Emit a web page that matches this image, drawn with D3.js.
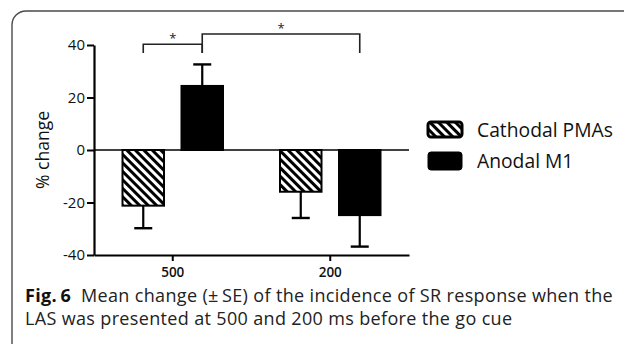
<!DOCTYPE html>
<html>
<head>
<meta charset="utf-8">
<script src="https://cdn.jsdelivr.net/npm/d3@7"></script>
<style>
  html, body { margin: 0; padding: 0; background: #fff; }
  svg { display: block; }
  text { font-family: "Open Sans", "Noto Sans", sans-serif; }
</style>
</head>
<body>
<svg id="chart" width="624" height="344"></svg>
<script>
// ---- data ----
const categories = ["500", "200"];
const series = ["Cathodal PMAs", "Anodal M1"];
const cathodalValues = [-21.2, -15.9];
const anodalValues = [24.4, -24.8];
const cathodalSE = [8.6, 10.0];
const anodalSE = [8.2, 12.0];
const yTicks = [-40, -20, 0, 20, 40];
const yLabel = "% change";
// significance brackets: [category, series] pairs compared, bracket level (y value)
const bracketFrom = [["500", "Cathodal PMAs"], ["500", "Anodal M1"]];
const bracketTo = [["500", "Anodal M1"], ["200", "Anodal M1"]];
const bracketLevel = [40.3, 44.2];
const bracketLegEnd = [37, 37];
const bracketLabel = ["*", "*"];
const captionBold = "Fig.\u20096";
const captionLine1 = "Mean change (\u00B1\u2009SE) of the incidence of SR response when the";
const captionLine2 = "LAS was presented at 500 and 200 ms before the go cue";

const rows = [];
categories.forEach((c, i) => {
  rows.push({cat: c, ser: series[0], value: cathodalValues[i], se: cathodalSE[i]});
  rows.push({cat: c, ser: series[1], value: anodalValues[i], se: anodalSE[i]});
});

function fitWidth(sel, target) {
  const w = sel.node().getComputedTextLength();
  const fs = parseFloat(sel.attr("font-size"));
  sel.attr("font-size", (fs * target / w).toFixed(2));
}

const svg = d3.select("#chart");
svg.append("rect").attr("width", 624).attr("height", 344).attr("fill", "#fff");

// frame border
svg.append("rect")
  .attr("x", 12).attr("y", 11).attr("width", 640).attr("height", 360)
  .attr("rx", 14).attr("fill", "none").attr("stroke", "#4a4a4a").attr("stroke-width", 1.4);

const defs = svg.append("defs");
const pat = defs.append("pattern")
  .attr("id", "hatch").attr("patternUnits", "userSpaceOnUse")
  .attr("width", 6).attr("height", 6)
  .attr("patternTransform", "rotate(-45)");
pat.append("rect").attr("width", 6).attr("height", 6).attr("fill", "#fff");
pat.append("line").attr("x1", 1.5).attr("y1", 0).attr("x2", 1.5).attr("y2", 6)
  .attr("stroke", "#000").attr("stroke-width", 3);

const plotLeft = 94, plotRight = 409, plotTop = 45, plotBottom = 255;

const x0 = d3.scaleBand().domain(categories).range([plotLeft, plotRight]).padding(0);
const x1 = d3.scaleBand().domain(series)
  .range([x0.bandwidth() * 0.181, x0.bandwidth() * 0.819]).paddingInner(0.2966).paddingOuter(0);
const y = d3.scaleLinear().domain([-40, 40]).range([plotBottom, plotTop]);

const fillFor = s => s === series[0] ? "url(#hatch)" : "#000";

const g = svg.append("g");

// bars
g.selectAll("rect.bar").data(rows).join("rect")
  .attr("class", "bar")
  .attr("x", d => x0(d.cat) + x1(d.ser))
  .attr("width", x1.bandwidth())
  .attr("y", d => y(Math.max(0, d.value)))
  .attr("height", d => Math.abs(y(d.value) - y(0)))
  .attr("fill", d => fillFor(d.ser))
  .attr("stroke", "#000").attr("stroke-width", 2);

// error bars (away from zero)
const eb = g.selectAll("g.eb").data(rows).join("g").attr("class", "eb");
const cx = d => x0(d.cat) + x1(d.ser) + x1.bandwidth() / 2;
const tipV = d => d.value + Math.sign(d.value) * d.se;
eb.append("line")
  .attr("x1", cx).attr("x2", cx)
  .attr("y1", d => y(d.value)).attr("y2", d => y(tipV(d)))
  .attr("stroke", "#000").attr("stroke-width", 2.2);
eb.append("line")
  .attr("x1", d => cx(d) - 9).attr("x2", d => cx(d) + 9)
  .attr("y1", d => y(tipV(d))).attr("y2", d => y(tipV(d)))
  .attr("stroke", "#000").attr("stroke-width", 2.4);

// zero line
g.append("line").attr("x1", plotLeft).attr("x2", plotRight)
  .attr("y1", y(0)).attr("y2", y(0)).attr("stroke", "#000").attr("stroke-width", 1.6);

// y axis
const yAxis = svg.append("g").attr("transform", `translate(${plotLeft},0)`)
  .call(d3.axisLeft(y).tickValues(yTicks).tickFormat(d => String(d))
    .tickSize(7).tickSizeOuter(0).tickPadding(2));
yAxis.select(".domain").attr("stroke-width", 2.2);
yAxis.selectAll(".tick line").attr("stroke-width", 2);
yAxis.selectAll(".tick text").attr("font-size", 15).attr("fill", "#111")
  .attr("font-family", "'Open Sans', sans-serif");

// x axis
const xAxis = svg.append("g").attr("transform", `translate(0,${plotBottom})`)
  .call(d3.axisBottom(x0).tickSize(6).tickSizeOuter(0).tickPadding(6));
xAxis.select(".domain").attr("stroke-width", 2.2);
xAxis.selectAll(".tick line").attr("stroke-width", 2);
xAxis.selectAll(".tick text").attr("font-size", 13.5).attr("font-weight", 600).attr("fill", "#111")
  .attr("font-family", "'Open Sans', sans-serif");

// y label
const yl = svg.append("text")
  .attr("transform", `translate(49,${(plotTop + plotBottom) / 2}) rotate(-90)`)
  .attr("text-anchor", "middle").attr("font-size", 16).attr("fill", "#111")
  .text(yLabel);
fitWidth(yl, 78);

// significance brackets
const px = p => x0(p[0]) + x1(p[1]) + x1.bandwidth() / 2;
bracketFrom.forEach((f, i) => {
  const t = bracketTo[i];
  const xa = px(f), xb = px(t);
  const ylv = y(bracketLevel[i]), ye = y(bracketLegEnd[i]);
  svg.append("path")
    .attr("d", `M${xa},${ye}V${ylv}H${xb}V${ye}`)
    .attr("fill", "none").attr("stroke", "#222").attr("stroke-width", 1.6);
  svg.append("text")
    .attr("x", (xa + xb) / 2).attr("y", ylv - 1)
    .attr("text-anchor", "middle").attr("font-size", 13).attr("fill", "#222")
    .text(bracketLabel[i]);
});

// legend
const legend = svg.append("g");
let legendFs = null;
series.forEach((s, i) => {
  const ly = 121 + i * 31;
  legend.append("rect")
    .attr("x", 428).attr("y", ly + (i === 0 ? 1 : 0))
    .attr("width", 34).attr("height", i === 0 ? 15 : 18)
    .attr("rx", 3)
    .attr("fill", fillFor(s)).attr("stroke", "#000").attr("stroke-width", i === 0 ? 3 : 1);
  const t = legend.append("text")
    .attr("x", 477).attr("y", ly + 15.5)
    .attr("font-size", 18.5).attr("fill", "#111")
    .text(s);
  if (i === 0) { fitWidth(t, 136); legendFs = t.attr("font-size"); }
  else t.attr("font-size", legendFs);
});

// caption
const capFont = "Lato, 'Open Sans', sans-serif";
const capB = svg.append("text").attr("x", 25).attr("y", 301.5).attr("font-size", 17)
  .attr("font-family", capFont).attr("font-weight", 700).attr("fill", "#111").text(captionBold);
const capR = svg.append("text").attr("y", 301.5).attr("font-size", 17)
  .attr("font-family", capFont).attr("fill", "#222").text(captionLine1);
const wB = capB.node().getComputedTextLength();
const wR = capR.node().getComputedTextLength();
const scale = Math.min((588 - 10) / (wB + wR), 18 / 17);
const capFs = 17 * scale;
const extra = (588 - 10) - (wB + wR) * scale;
const ls = Math.max(0, extra / (captionBold.length + captionLine1.length));
capB.attr("font-size", capFs.toFixed(2)).attr("letter-spacing", ls.toFixed(3));
const bW = capB.node().getComputedTextLength();
capR.attr("font-size", capFs.toFixed(2)).attr("letter-spacing", ls.toFixed(3))
  .attr("x", 25 + bW + 10);
svg.append("text").attr("x", 25).attr("y", 324.5).attr("font-size", capFs.toFixed(2))
  .attr("font-family", capFont).attr("fill", "#222").attr("letter-spacing", ls.toFixed(3))
  .text(captionLine2);
</script>
</body>
</html>
